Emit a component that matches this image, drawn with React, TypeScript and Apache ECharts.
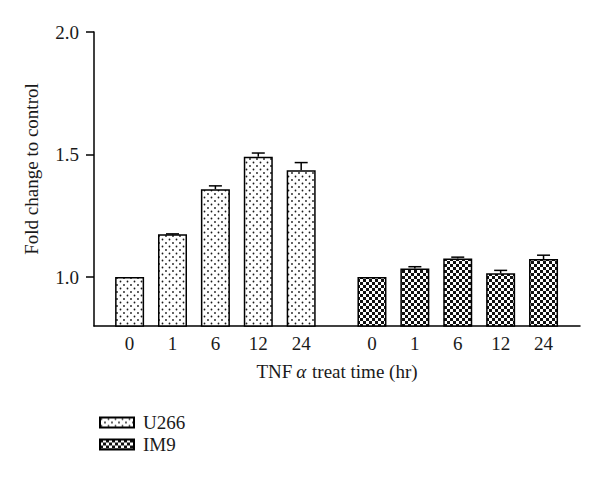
import React, { useEffect, useRef } from "react";
import * as echarts from "echarts";

const times = ["0", "1", "6", "12", "24"];
const u266 = [1.0, 1.174, 1.358, 1.491, 1.436];
const u266Err = [0, 0.002, 0.014, 0.015, 0.031];
const im9 = [1.0, 1.035, 1.076, 1.015, 1.073];
const im9Err = [0, 0.007, 0.005, 0.012, 0.016];
const yTicks = [1.0, 1.5, 2.0];

const GROUP2_OFFSET = 5.65;
const X_MIN = -0.83;
const X_MAX = 10.5;

const FONT = "Liberation Serif";
const INK = "#1a1a1a";
const FS = 19;

function dotTile(): HTMLCanvasElement {
  const c = document.createElement("canvas");
  c.width = 7;
  c.height = 7;
  const ctx = c.getContext("2d")!;
  ctx.fillStyle = "#ffffff";
  ctx.fillRect(0, 0, 7, 7);
  ctx.fillStyle = "#1a1a1a";
  ctx.beginPath();
  ctx.arc(1.5, 1.5, 0.9, 0, Math.PI * 2);
  ctx.arc(5, 5, 0.9, 0, Math.PI * 2);
  ctx.fill();
  return c;
}

function checkTile(): HTMLCanvasElement {
  const c = document.createElement("canvas");
  c.width = 6;
  c.height = 6;
  const ctx = c.getContext("2d")!;
  ctx.fillStyle = "#ffffff";
  ctx.fillRect(0, 0, 6, 6);
  ctx.fillStyle = "#111111";
  ctx.fillRect(0, 0, 3, 3);
  ctx.fillRect(3, 3, 3, 3);
  return c;
}

export default function App() {
  const ref = useRef<HTMLDivElement>(null);
  useEffect(() => {
    document.body.style.margin = "0";
    if (!ref.current) return;
    const chart = echarts.init(ref.current, undefined, { renderer: "svg" });

    const pos1 = times.map((_, i) => i);
    const pos2 = times.map((_, i) => GROUP2_OFFSET + i);
    const allPos = [...pos1, ...pos2];
    const labelFor = (v: number) => {
      const i = allPos.findIndex((p) => Math.abs(p - v) < 1e-6);
      return i < 0 ? "" : times[i % times.length];
    };

    const dc = dotTile();
    const cc = checkTile();
    const dotPattern: any = { image: dc.toDataURL(), repeat: "repeat", imageWidth: 7, imageHeight: 7 };
    const checkPattern: any = { image: cc.toDataURL(), repeat: "repeat", imageWidth: 6, imageHeight: 6 };

    const errRender = (params: any, api: any) => {
      const x = api.value(0);
      const y = api.value(1);
      const e = api.value(2);
      if (!(e > 0)) return { type: "group", children: [] };
      const base = api.coord([x, y]);
      const top = api.coord([x, y + e]);
      const style = { stroke: "#000", lineWidth: 1.5 };
      return {
        type: "group",
        children: [
          { type: "line", shape: { x1: base[0], y1: base[1], x2: top[0], y2: top[1] }, style },
          { type: "line", shape: { x1: top[0] - 6.5, y1: top[1], x2: top[0] + 6.5, y2: top[1] }, style },
        ],
      };
    };

    chart.setOption({
      animation: false,
      backgroundColor: "#ffffff",
      textStyle: { fontFamily: FONT, color: INK },
      grid: { left: 94, right: 20, top: 32, bottom: 152 },
      legend: {
        orient: "vertical",
        left: 94,
        top: 408,
        icon: "rect",
        itemWidth: 34,
        itemHeight: 10,
        itemGap: 3,
        data: ["U266", "IM9"],
        textStyle: { fontFamily: FONT, fontSize: FS, color: INK, padding: [0, 0, 0, 4] },
      },
      xAxis: {
        type: "value",
        min: X_MIN,
        max: X_MAX,
        splitLine: { show: false },
        axisLine: { show: true, onZero: false, lineStyle: { color: "#000", width: 1.5 } },
        axisTick: { show: false },
        axisLabel: {
          customValues: allPos,
          formatter: (v: number) => labelFor(v),
          fontFamily: FONT,
          fontSize: FS,
          color: INK,
          margin: 8,
        },
        name: "TNF{a|α} treat time (hr)",
        nameLocation: "middle",
        nameGap: 36,
        nameTextStyle: {
          fontFamily: FONT,
          fontSize: FS,
          color: INK,
          rich: {
            a: { fontFamily: FONT, fontSize: FS, fontStyle: "italic", color: INK, padding: [0, 1, 0, 4] },
          },
        },
      },
      yAxis: {
        type: "value",
        min: 0.8,
        max: 2.0,
        splitLine: { show: false },
        axisLine: { show: true, onZero: false, lineStyle: { color: "#000", width: 1.5 } },
        axisTick: { show: true, customValues: yTicks, length: 8, lineStyle: { color: "#000", width: 1.5 } },
        axisLabel: {
          customValues: yTicks,
          formatter: (v: number) => v.toFixed(1),
          fontFamily: FONT,
          fontSize: FS,
          color: INK,
          margin: 15,
        },
      },
      graphic: [
        {
          type: "text",
          x: 31,
          y: 169,
          rotation: Math.PI / 2,
          style: {
            text: "Fold change to control",
            fontFamily: FONT,
            fontSize: FS,
            fill: INK,
            align: "center",
            verticalAlign: "middle",
          },
        },
      ],
      series: [
        {
          name: "U266",
          type: "bar",
          barWidth: 29,
          barGap: "-100%",
          data: u266.map((v, i) => [pos1[i], v]),
          itemStyle: { color: dotPattern, borderColor: "#000", borderWidth: 1.5 },
        },
        {
          name: "IM9",
          type: "bar",
          barWidth: 29,
          barGap: "-100%",
          data: im9.map((v, i) => [pos2[i], v]),
          itemStyle: { color: checkPattern, borderColor: "#000", borderWidth: 1.5 },
        },
        {
          name: "U266 error",
          type: "custom",
          z: 5,
          renderItem: errRender,
          encode: { x: 0, y: 1 },
          data: u266.map((v, i) => [pos1[i], v, u266Err[i]]),
        },
        {
          name: "IM9 error",
          type: "custom",
          z: 5,
          renderItem: errRender,
          encode: { x: 0, y: 1 },
          data: im9.map((v, i) => [pos2[i], v, im9Err[i]]),
        },
      ],
    });
    return () => chart.dispose();
  }, []);
  return <div ref={ref} style={{ width: 600, height: 478 }} />;
}
